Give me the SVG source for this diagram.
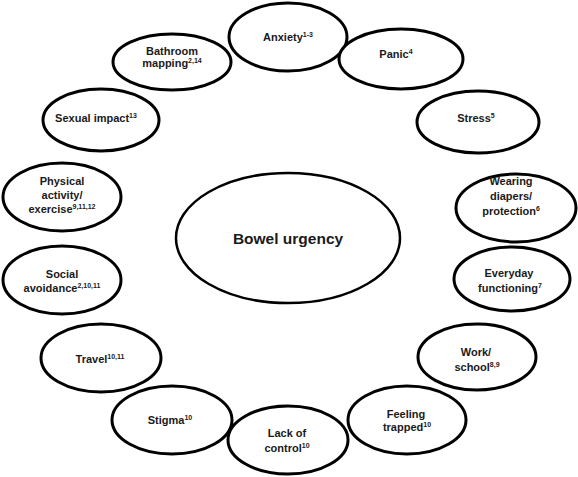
<svg xmlns="http://www.w3.org/2000/svg" width="578" height="477" viewBox="0 0 578 477">
<style>
.n ellipse{fill:#fff;stroke:#000;stroke-width:3}
.c ellipse{fill:#fff;stroke:#000;stroke-width:2.5}
text{font-family:"Liberation Sans",Arial,sans-serif;font-weight:bold;font-size:11px;text-anchor:middle;fill:#1a1a1a}
.s{font-size:7px}
.big{font-size:15.5px}
</style>
<rect width="578" height="477" fill="#fff"/>
<g id="connectors"></g>
<g id="bowel-urgency" class="c"><ellipse cx="288" cy="238" rx="112" ry="65"/><text class="big" x="288" y="244">Bowel urgency</text></g>
<g id="anxiety" class="n"><ellipse cx="288" cy="37" rx="59" ry="34"/><text x="288" y="41">Anxiety<tspan class="s" dy="-4">1-3</tspan></text></g>
<g id="bathroom" class="n"><ellipse cx="172" cy="62" rx="59" ry="28"/><text x="172" y="55">Bathroom</text><text x="172" y="67">mapping<tspan class="s" dy="-4">2,14</tspan></text></g>
<g id="panic" class="n"><ellipse cx="401" cy="59" rx="62" ry="30"/><text x="396" y="58">Panic<tspan class="s" dy="-4">4</tspan></text></g>
<g id="stress" class="n"><ellipse cx="478" cy="122" rx="61" ry="31"/><text x="476" y="122">Stress<tspan class="s" dy="-4">5</tspan></text></g>
<g id="diapers" class="n"><ellipse cx="516" cy="208" rx="60" ry="34"/><text x="511" y="185">Wearing</text><text x="511" y="200">diapers/</text><text x="511" y="215">protection<tspan class="s" dy="-4">6</tspan></text></g>
<g id="everyday" class="n"><ellipse cx="512" cy="279" rx="58" ry="32"/><text x="509" y="277">Everyday</text><text x="510" y="292">functioning<tspan class="s" dy="-4">7</tspan></text></g>
<g id="work" class="n"><ellipse cx="477" cy="357" rx="59" ry="33"/><text x="476" y="356">Work/</text><text x="477" y="371">school<tspan class="s" dy="-4">8,9</tspan></text></g>
<g id="trapped" class="n"><ellipse cx="407" cy="420" rx="59" ry="34"/><text x="406" y="418">Feeling</text><text x="407" y="431">trapped<tspan class="s" dy="-4">10</tspan></text></g>
<g id="control" class="n"><ellipse cx="288" cy="440" rx="60" ry="34"/><text x="287" y="437">Lack of</text><text x="287" y="452">control<tspan class="s" dy="-4">10</tspan></text></g>
<g id="stigma" class="n"><ellipse cx="172" cy="420" rx="60" ry="34"/><text x="170" y="424">Stigma<tspan class="s" dy="-4">10</tspan></text></g>
<g id="travel" class="n"><ellipse cx="101" cy="358" rx="60" ry="34"/><text x="100" y="363">Travel<tspan class="s" dy="-4">10,11</tspan></text></g>
<g id="social" class="n"><ellipse cx="62" cy="280" rx="59" ry="34"/><text x="62" y="278">Social</text><text x="62" y="292">avoidance<tspan class="s" dy="-4">2,10,11</tspan></text></g>
<g id="physical" class="n"><ellipse cx="62" cy="197" rx="59" ry="34"/><text x="62" y="185">Physical</text><text x="62" y="199">activity/</text><text x="62" y="213">exercise<tspan class="s" dy="-4">9,11,12</tspan></text></g>
<g id="sexual" class="n"><ellipse cx="101" cy="120" rx="58" ry="31"/><text x="96" y="122">Sexual impact<tspan class="s" dy="-4">13</tspan></text></g>
</svg>
